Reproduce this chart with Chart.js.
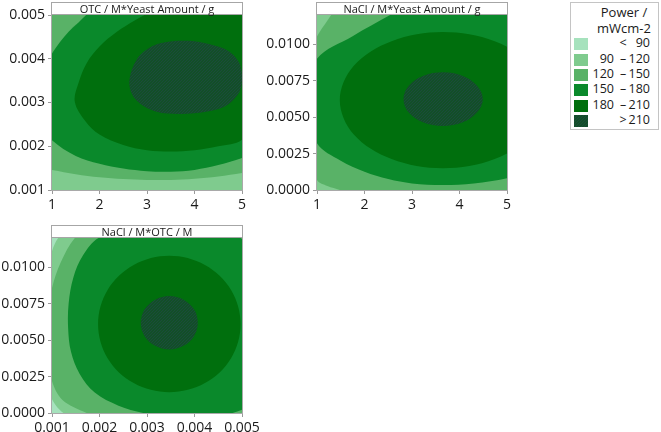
<!DOCTYPE html>
<html>
<head>
<meta charset="utf-8">
<script src="https://cdn.jsdelivr.net/npm/chart.js@4.4.1/dist/chart.umd.min.js"></script>
<style>
  html, body { margin: 0; padding: 0; background: #fff; }
  body { position: relative; width: 661px; height: 432px; overflow: hidden; font-family: "Open Sans", sans-serif; color: #1a1a1a; }
  canvas { position: absolute; }
  .ttl { position: absolute; box-sizing: border-box; height: 13px; border: 1px solid #a6a6a6; background: #fff;
         font-size: 11px; line-height: 11px; text-align: center; white-space: nowrap; }
  #legend { position: absolute; left: 570px; top: 2px; width: 89px; height: 128px; box-sizing: border-box; border: 1px solid #c4c4c4; font-size: 12.5px; }
  #legend .t { position: absolute; left: 0; width: 106px; text-align: center; line-height: 16px; white-space: nowrap; font-size: 13px; }
  #legend .sw { position: absolute; left: 3px; width: 14px; height: 12px; }
  #legend .lo, #legend .dash, #legend .hi { position: absolute; line-height: 16px; white-space: nowrap; }
  #legend .lo { left: 8px; width: 35px; text-align: right; }
  #legend .dash { left: 46px; width: 12px; text-align: center; }
  #legend .hi { left: 50px; width: 29px; text-align: right; }
</style>
</head>
<body>
<div id="legend"></div>
<script>
// legend classes (Power / mWcm-2)
const levelBreaks = [90, 120, 150, 180, 210];
const legendTitle = ['Power /', 'mWcm-2'];

// axes
const yeastRange = [1, 5];
const yeastTicks = [1, 2, 3, 4, 5];
const otcRange = [0.001, 0.005];
const otcTicks = [0.001, 0.002, 0.003, 0.004, 0.005];
const naclRange = [0, 0.012];
const naclTicks = [0, 0.0025, 0.005, 0.0075, 0.01];

// contour regions, [x, y] in data units
// OTC / M vs Yeast Amount / g
const otcYeast120 = [[0.5,0.00155],[1,0.00146],[1.5,0.00136],[2,0.00129],[2.5,0.00125],[3,0.00123],[3.5,0.00123],[4,0.00126],[4.5,0.00131],[5,0.00139],[5.6,0.0015],[5.8,0.0056],[0.3,0.0056]];
const otcYeast150 = [[1.73,0.005],[1.35,0.00462],[1,0.00412],[0.75,0.0036],[0.65,0.003],[0.75,0.0025],[1,0.00214],[1.5,0.00178],[2,0.0016],[2.5,0.00149],[3,0.00143],[3.5,0.00142],[4,0.00146],[4.5,0.00157],[5,0.00173],[5.6,0.002],[5.9,0.0035],[5.6,0.0056],[2.3,0.0056]];
const otcYeast180 = [[1.48,0.00302],[1.56,0.00345],[1.73,0.0039],[2,0.00428],[2.36,0.00461],[2.75,0.00488],[3.1,0.00508],[3.6,0.0053],[5.6,0.0056],[5.7,0.003],[5,0.00215],[4.5,0.002],[4,0.00191],[3.5,0.00188],[3,0.00191],[2.5,0.00203],[2,0.00227],[1.7,0.00258]];
const otcYeast210 = [[2.63,0.00351],[2.75,0.00392],[2.95,0.00418],[3.3,0.00436],[3.84,0.00441],[4.3,0.00434],[4.68,0.0042],[4.92,0.00395],[5,0.00362],[4.95,0.00325],[4.7,0.00295],[4.3,0.0028],[3.7,0.00274],[3.2,0.00279],[2.85,0.00298],[2.68,0.0032]];
// NaCl / M vs Yeast Amount / g
const naclYeast120 = [[1.31,0.012],[1.14,0.01125],[1,0.01053],[0.7,0.0085],[0.55,0.006],[0.7,0.003],[1,0.00069],[1.22,0.00028],[1.48,0],[1.8,-0.0006],[6,-0.001],[6,0.0132],[1.55,0.0132]];
const naclYeast150 = [[2.54,0.012],[1.75,0.01055],[1,0.009],[0.7,0.0061],[1,0.0032],[1.5,0.002],[2,0.00125],[2.5,0.00075],[3,0.00045],[3.65,0.00034],[4.3,0.00045],[5,0.0008],[5.8,0.0015],[6.2,0.006],[5.8,0.0125],[4,0.0135],[3,0.0128]];
const naclYeast180 = [[5.82,0.00616],[5.53,0.0085],[4.74,0.0102],[3.65,0.01083],[2.57,0.0102],[1.77,0.0085],[1.48,0.00616],[1.77,0.00382],[2.57,0.00212],[3.65,0.00149],[4.74,0.00212],[5.53,0.00382]];
const naclYeast210 = [[4.49,0.00623],[4.37,0.00715],[4.07,0.00782],[3.65,0.00807],[3.23,0.00782],[2.93,0.00715],[2.82,0.00623],[2.93,0.00531],[3.23,0.00464],[3.65,0.00439],[4.07,0.00464],[4.37,0.00531]];
// NaCl / M vs OTC / M
const naclOtc90 = [[0.00113,0.012],[0.00106,0.0116],[0.001,0.0111],[0.00085,0.0095],[0.00075,0.0075],[0.00072,0.0055],[0.00078,0.0035],[0.0009,0.0018],[0.001,0.00094],[0.00111,0.0004],[0.00124,0],[0.0015,-0.0006],[0.006,-0.001],[0.006,0.013],[0.0013,0.0126]];
const naclOtc120 = [[0.00148,0.012],[0.00118,0.0103],[0.001,0.00858],[0.00092,0.0072],[0.0009,0.0055],[0.00093,0.0038],[0.001,0.00219],[0.00122,0.0009],[0.00173,0],[0.0023,-0.0008],[0.006,-0.001],[0.006,0.013],[0.0018,0.0128]];
const naclOtc150 = [[0.00198,0.012],[0.00165,0.0108],[0.00145,0.0093],[0.00135,0.0075],[0.00134,0.0058],[0.0014,0.0042],[0.00158,0.0027],[0.0019,0.0014],[0.0024,0.0005],[0.00292,0],[0.0035,-0.0004],[0.0042,-0.0003],[0.0048,0],[0.0053,0.0008],[0.0056,0.0025],[0.0057,0.0045],[0.0057,0.0065],[0.0056,0.0085],[0.0053,0.0105],[0.00497,0.012],[0.0042,0.0128],[0.0035,0.013],[0.0027,0.0127]];
const naclOtc180 = [[0.00497,0.0061],[0.00477,0.00844],[0.00422,0.01015],[0.00347,0.01078],[0.00272,0.01015],[0.00217,0.00844],[0.00197,0.0061],[0.00217,0.00376],[0.00272,0.00205],[0.00347,0.00142],[0.00422,0.00205],[0.00477,0.00376]];
const naclOtc210 = [[0.00407,0.00619],[0.00399,0.00711],[0.00377,0.00777],[0.00347,0.00802],[0.00317,0.00777],[0.00295,0.00711],[0.00287,0.00619],[0.00295,0.00527],[0.00317,0.00461],[0.00347,0.00436],[0.00377,0.00461],[0.00399,0.00527]];

// stippled fill for the top class, kept low-contrast so it reads dark at any sampling
const tile = document.createElement('canvas')
tile.width = 3; tile.height = 3
const tctx = tile.getContext('2d')
tctx.fillStyle = '#124f27'
tctx.fillRect(0, 0, 3, 3)
tctx.fillStyle = '#1b4b3c'
tctx.fillRect(0, 0, 1, 1)
tctx.fillRect(2, 1, 1, 1)
tctx.fillRect(1, 2, 1, 1)
const topPattern = tctx.createPattern(tile, 'repeat')

const levelColors = ['#a6e2bd', '#7fcb8e', '#59b267', '#0a892b', '#006f0d', topPattern]

const panels = [
  { title: 'OTC / M*Yeast Amount / g', left: 0, top: 0,
    x: { range: yeastRange, ticks: yeastTicks, dec: 0 }, y: { range: otcRange, ticks: otcTicks, dec: 3 },
    base: 1, regions: [[2, otcYeast120], [3, otcYeast150], [4, otcYeast180], [5, otcYeast210]] },
  { title: 'NaCl / M*Yeast Amount / g', left: 265, top: 0,
    x: { range: yeastRange, ticks: yeastTicks, dec: 0 }, y: { range: naclRange, ticks: naclTicks, dec: 4 },
    base: 1, regions: [[2, naclYeast120], [3, naclYeast150], [4, naclYeast180], [5, naclYeast210]] },
  { title: 'NaCl / M*OTC / M', left: 0, top: 223,
    x: { range: otcRange, ticks: otcTicks, dec: 3 }, y: { range: naclRange, ticks: naclTicks, dec: 4 },
    base: 0, regions: [[1, naclOtc90], [2, naclOtc120], [3, naclOtc150], [4, naclOtc180], [5, naclOtc210]] },
]

// close the outline smoothly: wrap one point before and two after
function loop(pts) {
  const n = pts.length
  return [pts[n - 1], ...pts, pts[0], pts[1]].map(([x, y]) => ({ x, y }))
}

const framePlugin = {
  id: 'frame',
  beforeDatasetsDraw(chart, args, opts) {
    const { ctx, chartArea: a } = chart
    ctx.save()
    ctx.fillStyle = opts.base
    ctx.fillRect(a.left, a.top, a.width, a.height)
    ctx.restore()
  },
  afterDraw(chart) {
    const { ctx, chartArea: a } = chart
    ctx.save()
    ctx.strokeStyle = '#a9a9a9'
    ctx.lineWidth = 1
    ctx.strokeRect(a.left - 0.5, a.top - 0.5, a.width + 1, a.height + 1)
    ctx.restore()
  }
}

function axis(a, dir) {
  return {
    type: 'linear',
    min: a.range[0],
    max: a.range[1],
    afterBuildTicks: s => { s.ticks = a.ticks.map(v => ({ value: v })) },
    afterFit: s => { if (dir === 'y') s.width = 52; else s.height = 20 },
    ticks: {
      callback: v => Number(v).toFixed(a.dec),
      font: { family: '"Open Sans", sans-serif', size: 14 },
      color: '#1a1a1a',
      padding: 3,
      autoSkip: false,
      maxRotation: 0
    },
    grid: { drawOnChartArea: false, drawTicks: true, tickLength: 4, color: '#9a9a9a' },
    border: { display: false }
  }
}

panels.forEach(p => {
  const cv = document.createElement('canvas')
  cv.width = 300
  cv.height = 215
  cv.style.left = p.left + 'px'
  cv.style.top = p.top + 'px'
  document.body.appendChild(cv)

  const t = document.createElement('div')
  t.className = 'ttl'
  t.textContent = p.title
  t.style.left = (p.left + 51) + 'px'
  t.style.top = (p.top + 2) + 'px'
  t.style.width = '192px'
  document.body.appendChild(t)

  const datasets = p.regions.map(([lvl, pts], i) => ({
    data: loop(pts),
    fill: 'shape',
    backgroundColor: levelColors[lvl],
    borderColor: 'rgba(0,0,0,0)',
    borderWidth: 0,
    pointRadius: 0,
    tension: 0.35,
    order: p.regions.length - i
  }))

  new Chart(cv, {
    type: 'line',
    data: { datasets },
    options: {
      responsive: false,
      animation: false,
      events: [],
      layout: { padding: { left: 0, top: 15, right: 58, bottom: 5 } },
      elements: { line: { capBezierPoints: false }, point: { radius: 0 } },
      plugins: {
        legend: { display: false },
        tooltip: { enabled: false },
        frame: { base: levelColors[p.base] }
      },
      scales: { x: axis(p.x, 'x'), y: axis(p.y, 'y') }
    },
    plugins: [framePlugin]
  })
})

// legend box
const lg = document.getElementById('legend')
legendTitle.forEach((s, i) => {
  const d = document.createElement('div')
  d.className = 't'
  d.style.top = (1 + i * 16) + 'px'
  d.textContent = s
  lg.appendChild(d)
})
const rows = [['', '<', String(levelBreaks[0])]]
for (let i = 0; i < levelBreaks.length - 1; i++) rows.push([String(levelBreaks[i]), '\u2013', String(levelBreaks[i + 1])])
rows.push(['', '>', String(levelBreaks[levelBreaks.length - 1])])
rows.forEach((r, i) => {
  const y = 35.3 + i * 15.33
  const sw = document.createElement('div')
  sw.className = 'sw'
  sw.style.top = Math.round(y) + 'px'
  if (i === 5) sw.style.backgroundImage = 'url(' + tile.toDataURL() + ')'
  else sw.style.background = levelColors[i]
  lg.appendChild(sw)
  ;['lo', 'dash', 'hi'].forEach((c, k) => {
    const s = document.createElement('span')
    s.className = c
    s.style.top = Math.round(y - 3) + 'px'
    s.textContent = r[k]
    lg.appendChild(s)
  })
})
</script>
</body>
</html>
